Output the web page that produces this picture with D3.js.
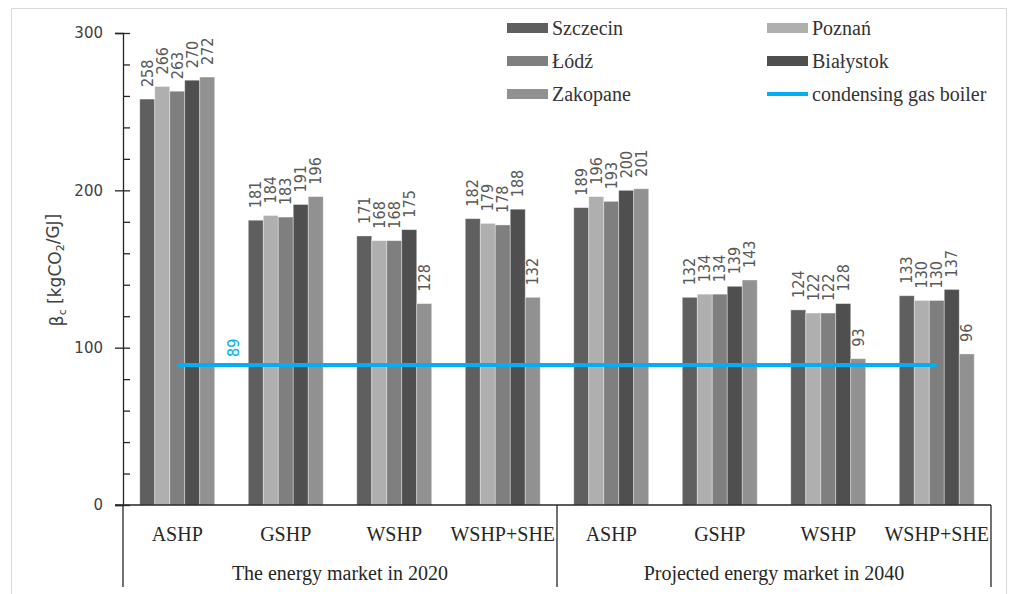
<!DOCTYPE html>
<html>
<head>
<meta charset="utf-8">
<script src="https://cdn.jsdelivr.net/npm/d3@7"></script>
<style>
  html, body { margin: 0; padding: 0; background: #fff; }
  svg { display: block; }
</style>
</head>
<body>
<script>
// data
const cities = ["Szczecin", "Poznań", "Łódź", "Białystok", "Zakopane"];
const technologies = ["ASHP", "GSHP", "WSHP", "WSHP+SHE"];
const markets = ["The energy market in 2020", "Projected energy market in 2040"];

// one value per category: 2020 ASHP..WSHP+SHE, then 2040 ASHP..WSHP+SHE
const szczecin = [258, 181, 171, 182, 189, 132, 124, 133];
const poznan = [266, 184, 168, 179, 196, 134, 122, 130];
const lodz = [263, 183, 168, 178, 193, 134, 122, 130];
const bialystok = [270, 191, 175, 188, 200, 139, 128, 137];
const zakopane = [272, 196, 128, 132, 201, 143, 93, 96];
const gasBoiler = [89, 89, 89, 89, 89, 89, 89, 89];

const yTicks = [0, 100, 200, 300];

const series = [szczecin, poznan, lodz, bialystok, zakopane];
const colors = ["#5f5f5f", "#afafaf", "#7f7f7f", "#4f4f4f", "#919191"];
const boilerColor = "#00b0f0";

const width = 1014, height = 594;
const serif = "'Liberation Serif', 'DejaVu Serif', serif";
const sans = "'DejaVu Sans', Verdana, sans-serif";
const narrow = "'DejaVu Sans Condensed', 'DejaVu Sans', sans-serif";

// categories = every technology inside every market
const categories = markets.flatMap((m, mi) => technologies.map(t => mi + "|" + t));

const svg = d3.select("body").append("svg")
    .attr("width", width)
    .attr("height", height);

// outer frame
svg.append("rect")
    .attr("x", 11.5).attr("y", 8.5)
    .attr("width", 995).attr("height", 620)
    .attr("fill", "none")
    .attr("stroke", "#d9d9d9");

const x0 = d3.scaleBand().domain(categories).range([123, 991]);
const x1 = d3.scaleBand().domain(cities).range([0, x0.bandwidth()]).paddingOuter(1.12);
const y = d3.scaleLinear().domain([0, 300]).range([505, 33]);

// bars
const groups = svg.append("g")
    .selectAll("g")
    .data(categories)
    .join("g")
    .attr("transform", d => `translate(${x0(d)},0)`);

groups.selectAll("rect")
    .data((d, i) => cities.map((c, ci) => ({ city: c, ci, value: series[ci][i] })))
    .join("rect")
    .attr("x", d => x1(d.city))
    .attr("width", x1.bandwidth())
    .attr("y", d => y(d.value))
    .attr("height", d => y(0) - y(d.value))
    .attr("fill", d => colors[d.ci])
    .attr("stroke", "#ffffff")
    .attr("stroke-opacity", 0.45)
    .attr("stroke-width", 0.8);

// value labels, rotated
groups.selectAll("text")
    .data((d, i) => cities.map((c, ci) => ({ city: c, value: series[ci][i] })))
    .join("text")
    .attr("transform", d => `translate(${x1(d.city) + x1.bandwidth() / 2},${y(d.value) - 12}) rotate(-90)`)
    .attr("dy", "0.35em")
    .attr("text-anchor", "start")
    .style("font", `16px ${narrow}`)
    .attr("fill", "#595959")
    .text(d => d.value);

// gas boiler line
const line = d3.line()
    .x((d, i) => x0(categories[i]) + x0.bandwidth() / 2)
    .y(d => y(d));

svg.append("path")
    .datum(gasBoiler)
    .attr("d", line)
    .attr("fill", "none")
    .attr("stroke", boilerColor)
    .attr("stroke-width", 4);

svg.append("text")
    .attr("transform", `translate(${x0(categories[0]) + x0.bandwidth() + 2},${y(gasBoiler[0]) - 8}) rotate(-90)`)
    .attr("dy", "0.35em")
    .style("font", `16px ${narrow}`)
    .attr("fill", boilerColor)
    .text(gasBoiler[0]);

// y axis: labelled major ticks to the left, minor ticks inside
const yAxis = svg.append("g")
    .attr("transform", "translate(123,0)")
    .call(d3.axisLeft(y).tickValues(yTicks).tickSize(8).tickPadding(12));
yAxis.selectAll("text").style("font", `15px ${sans}`).attr("fill", "#404040");
yAxis.selectAll("line").attr("stroke", "#262626").attr("stroke-width", 1.3);
yAxis.select(".domain").attr("stroke", "#262626").attr("stroke-width", 1.3);

const yMinor = svg.append("g")
    .attr("transform", "translate(123,0)")
    .call(d3.axisRight(y).tickValues(d3.range(0, 301, 20)).tickSize(7).tickFormat(""));
yMinor.select(".domain").remove();
yMinor.selectAll("line").attr("stroke", "#262626").attr("stroke-width", 1.3);

// y axis title
const yTitle = svg.append("text")
    .attr("transform", "translate(57,270) rotate(-90)")
    .attr("text-anchor", "middle")
    .attr("dy", "0.35em")
    .style("font", `17px ${sans}`)
    .attr("fill", "#404040");
yTitle.append("tspan").text("β");
yTitle.append("tspan").attr("dy", "0.3em").style("font-size", "11px").text("c");
yTitle.append("tspan").attr("dy", "-0.3em").text(" [kgCO");
yTitle.append("tspan").attr("dy", "0.3em").style("font-size", "11px").text("2");
yTitle.append("tspan").attr("dy", "-0.3em").text("/GJ]");

// category axis
const xAxis = svg.append("g");
xAxis.append("line")
    .attr("x1", 115).attr("x2", 991)
    .attr("y1", y(0)).attr("y2", y(0))
    .attr("stroke", "#262626").attr("stroke-width", 1.3);

const dividers = [0, technologies.length, categories.length];
xAxis.selectAll("line.div")
    .data(dividers)
    .join("line")
    .attr("class", "div")
    .attr("x1", i => i < categories.length ? x0(categories[i]) : x0.range()[1])
    .attr("x2", i => i < categories.length ? x0(categories[i]) : x0.range()[1])
    .attr("y1", y(0)).attr("y2", 587)
    .attr("stroke", "#262626").attr("stroke-width", 1.3);

xAxis.selectAll("text.tech")
    .data(categories)
    .join("text")
    .attr("class", "tech")
    .attr("x", d => x0(d) + x0.bandwidth() / 2)
    .attr("y", 541)
    .attr("text-anchor", "middle")
    .style("font", `20px ${serif}`)
    .attr("fill", "#262626")
    .text(d => d.split("|")[1]);

xAxis.selectAll("text.market")
    .data(markets)
    .join("text")
    .attr("class", "market")
    .attr("x", (d, i) => x0(categories[i * 4]) + x0.bandwidth() * 2)
    .attr("y", 580)
    .attr("text-anchor", "middle")
    .style("font", `20px ${serif}`)
    .attr("fill", "#262626")
    .text(d => d);

// legend, two columns
const legendItems = cities.map((c, i) => ({ name: c, color: colors[i], kind: "bar" }))
    .concat([{ name: "condensing gas boiler", color: boilerColor, kind: "line" }]);
const colX = [507, 767];
const rowY = [28, 61, 94];

const legend = svg.append("g")
    .selectAll("g")
    .data(legendItems)
    .join("g")
    .attr("transform", (d, i) => `translate(${colX[i % 2]},${rowY[Math.floor(i / 2)]})`);

legend.append("rect")
    .attr("x", 0)
    .attr("y", d => d.kind === "bar" ? -5 : -2)
    .attr("width", 41)
    .attr("height", d => d.kind === "bar" ? 10 : 4)
    .attr("fill", d => d.color);

legend.append("text")
    .attr("x", 45)
    .attr("y", 7)
    .style("font", `20px ${serif}`)
    .attr("fill", "#333")
    .text(d => d.name);
</script>
</body>
</html>
